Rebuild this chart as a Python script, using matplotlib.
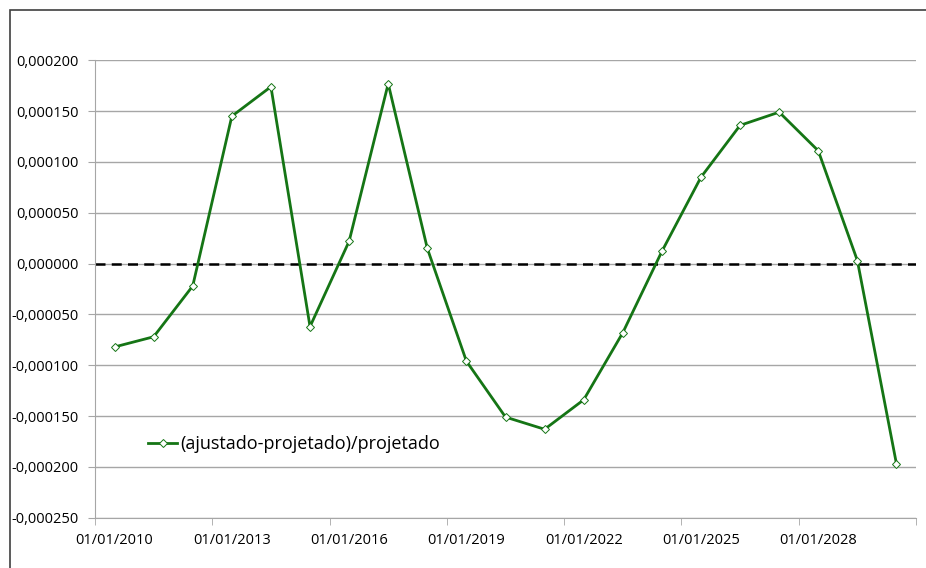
import numpy as np
import matplotlib
matplotlib.use("Agg")
from matplotlib import pyplot as plt
from matplotlib.patches import Rectangle
from matplotlib.ticker import FuncFormatter

plt.rcParams['font.family'] = ['Open Sans', 'DejaVu Sans']

# one value per year, 2010..2030 (category axis)
years = list(range(2010, 2031))
ratio = [-0.000082, -0.000072, -0.000022, 0.000145, 0.000174, -0.000062, 0.000022,
         0.000177, 0.000015, -0.000096, -0.000151, -0.000163, -0.000134, -0.000068,
         0.000012, 0.000085, 0.000136, 0.000149, 0.000111, 0.000003, -0.000197]
tick_labels = ['01/01/2010', '01/01/2013', '01/01/2016', '01/01/2019',
               '01/01/2022', '01/01/2025', '01/01/2028']
serie_label = '(ajustado-projetado)/projetado'

fig = plt.figure(figsize=(9.26, 5.68), dpi=100)
ax = fig.add_axes([95/926, 1-517.7/568, (916-95)/926, (517.7-60.3)/568])

# outer chart border
fig.patches.append(Rectangle((9.5/926, -0.1), 2, 1.1 - 10/568,
                             transform=fig.transFigure, fill=False,
                             edgecolor='#404040', linewidth=1.2))

x = np.arange(len(years))
ax.axhline(0, color='black', linestyle=(0, (4, 2.5)), linewidth=1.8, zorder=2)
ax.plot(x, ratio, color='#157515', linewidth=2, marker='D', markersize=4.2,
        markerfacecolor='white', markeredgecolor='#157515', markeredgewidth=0.7,
        label=serie_label, zorder=3)

ax.set_xlim(-0.5, len(years) - 0.5)
ax.set_ylim(-0.00025, 0.0002)
ax.set_yticks(np.arange(-0.00025, 0.000201, 0.00005))
ax.yaxis.set_major_formatter(FuncFormatter(lambda v, p: f'{v:.6f}'.replace('.', ',').replace('-0,000000', '0,000000')))
ax.grid(axis='y', color='#a6a6a6', linewidth=1)
ax.set_axisbelow(True)

ax.set_xticks(x[::3])
ax.set_xticklabels(tick_labels)
ax.set_xticks(np.arange(-0.5, len(years), 3), minor=True)
ax.tick_params(axis='x', which='major', length=0, pad=11, labelsize=10.5)
ax.tick_params(axis='x', which='minor', length=5, color='#a6a6a6', direction='out')
ax.tick_params(axis='y', length=5, color='#a6a6a6', pad=7, labelsize=10.5)

for s in ['top', 'right']:
    ax.spines[s].set_visible(False)
for s in ['left', 'bottom']:
    ax.spines[s].set_color('#a6a6a6')

ax.legend(loc='lower left', bbox_to_anchor=(0.045, 0.105), frameon=False,
          fontsize=13, handlelength=1.6, handletextpad=0.15)

fig.savefig('out.png', dpi=100)
